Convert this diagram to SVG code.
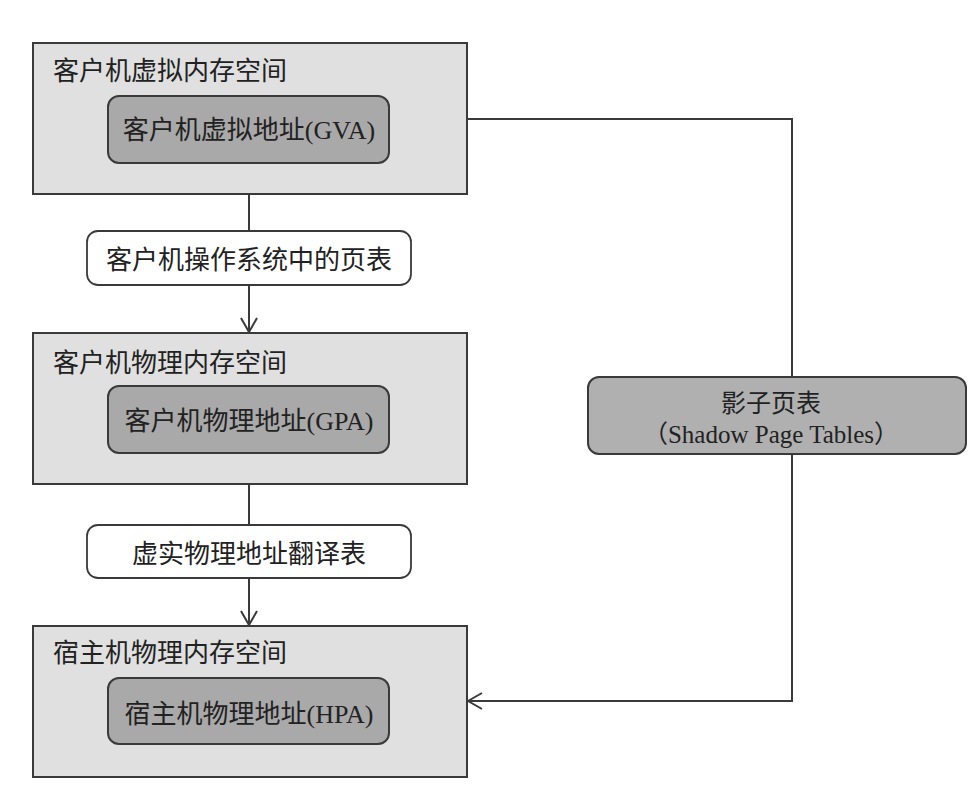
<svg xmlns="http://www.w3.org/2000/svg" width="975" height="791" viewBox="0 0 975 791">
<defs>
<style>
.outer{fill:#e0e0e0;stroke:#3a3a3a;stroke-width:2}
.inner{fill:#a9a9a9;stroke:#3a3a3a;stroke-width:2}
.lbl{fill:#ffffff;stroke:#3a3a3a;stroke-width:1.8}
.sh{fill:#b0b0b0;stroke:#3a3a3a;stroke-width:2}
text{font-family:"Liberation Serif","Noto Sans CJK SC",serif;font-size:26px;fill:#222}
.c{text-anchor:middle}
.s{font-size:25px}
.line{fill:none;stroke:#3a3a3a;stroke-width:2}
</style>
<marker id="arr" viewBox="0 0 16 18" refX="15" refY="9" markerWidth="16" markerHeight="18" markerUnits="userSpaceOnUse" orient="auto">
<path d="M1,1 L15,9 L1,17" fill="none" stroke="#3a3a3a" stroke-width="2"/>
</marker>
</defs>
<rect width="975" height="791" fill="#ffffff"/>
<g id="connectors">
<path class="line" d="M249,194 V231"/>
<path class="line" d="M249,285 V332" marker-end="url(#arr)"/>
<path class="line" d="M249,484 V525"/>
<path class="line" d="M249,578 V625" marker-end="url(#arr)"/>
<path class="line" d="M467,119 H792 V377"/>
<path class="line" d="M792,454 V701 H468" marker-end="url(#arr)"/>
</g>
<g id="gva-space">
<rect class="outer" x="33" y="43" width="434" height="151"/>
<text x="53" y="80">客户机虚拟内存空间</text>
</g>
<g id="gva">
<rect class="inner" x="108" y="96" width="281" height="67" rx="11"/>
<text class="c" x="249" y="139">客户机虚拟地址(GVA)</text>
</g>
<g id="guest-pt">
<rect class="lbl" x="87" y="231" width="324" height="54" rx="11"/>
<text class="c" x="249" y="269">客户机操作系统中的页表</text>
</g>
<g id="gpa-space">
<rect class="outer" x="33" y="333" width="434" height="151"/>
<text x="53" y="372">客户机物理内存空间</text>
</g>
<g id="gpa">
<rect class="inner" x="108" y="386" width="281" height="67" rx="11"/>
<text class="c" x="249" y="430">客户机物理地址(GPA)</text>
</g>
<g id="p2m">
<rect class="lbl" x="87" y="525" width="324" height="53" rx="11"/>
<text class="c" x="249" y="563">虚实物理地址翻译表</text>
</g>
<g id="hpa-space">
<rect class="outer" x="33" y="626" width="434" height="151"/>
<text x="53" y="662">宿主机物理内存空间</text>
</g>
<g id="hpa">
<rect class="inner" x="108" y="678" width="281" height="66" rx="11"/>
<text class="c" x="249" y="723">宿主机物理地址(HPA)</text>
</g>
<g id="shadow">
<rect class="sh" x="588" y="377" width="378" height="77" rx="11"/>
<text class="c s" x="771" y="412">影子页表</text>
<text class="c s" x="771" y="443">（Shadow Page Tables）</text>
</g>
</svg>
